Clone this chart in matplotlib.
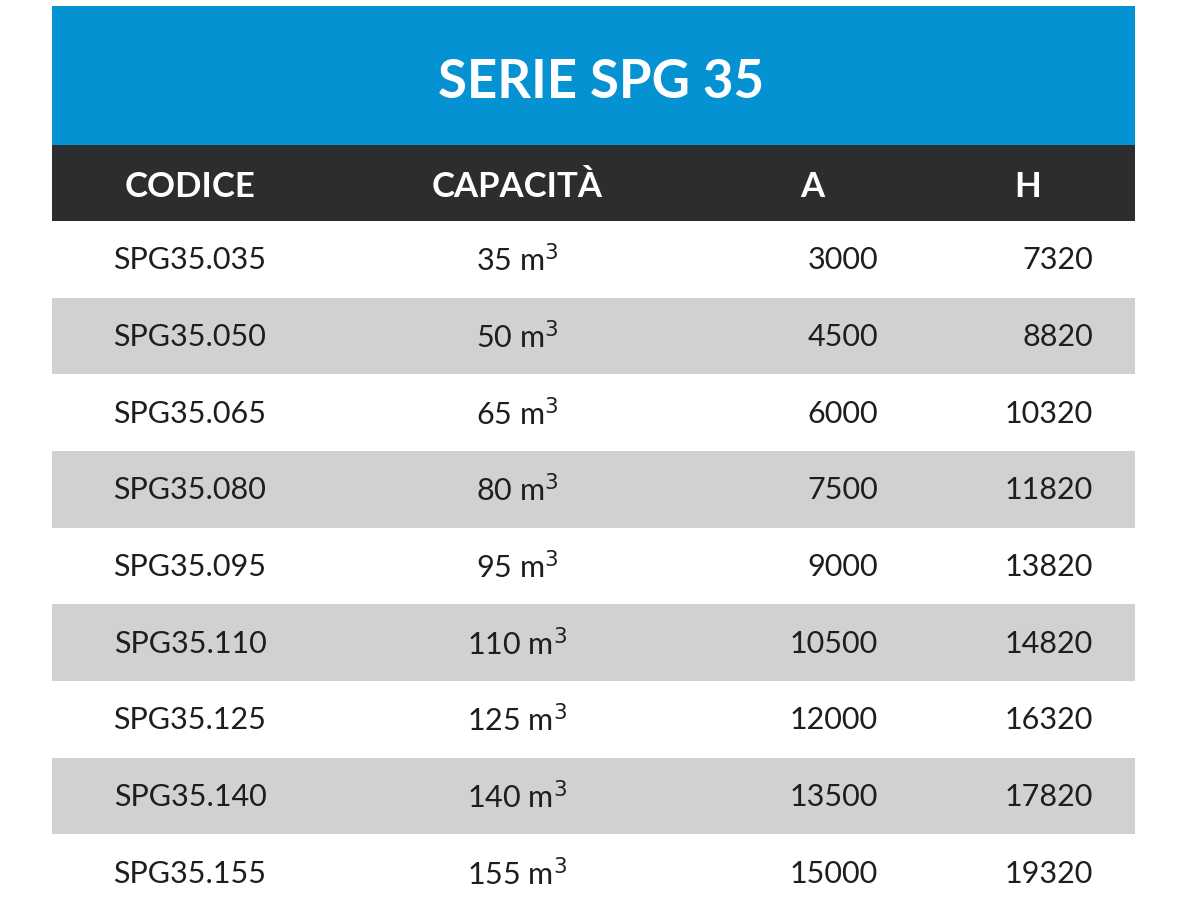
import matplotlib
matplotlib.use("Agg")
import matplotlib.pyplot as plt
from matplotlib.patches import Rectangle

title = "SERIE SPG 35"
headers = ["CODICE", "CAPACITÀ", "A", "H"]
codes = ["SPG35.035", "SPG35.050", "SPG35.065", "SPG35.080", "SPG35.095",
         "SPG35.110", "SPG35.125", "SPG35.140", "SPG35.155"]
capacity = [35, 50, 65, 80, 95, 110, 125, 140, 155]
a_vals = [3000, 4500, 6000, 7500, 9000, 10500, 12000, 13500, 15000]
h_vals = [7320, 8820, 10320, 11820, 13820, 14820, 16320, 17820, 19320]

W, H = 1187, 911
fig = plt.figure(figsize=(W / 100, H / 100), dpi=100)
ax = fig.add_axes([0, 0, 1, 1])
ax.set_xlim(0, W)
ax.set_ylim(H, 0)
ax.axis("off")

x0, x1 = 52, 1135
ax.add_patch(Rectangle((x0, 6), x1 - x0, 139, color="#0592D3", lw=0))
ax.add_patch(Rectangle((x0, 145), x1 - x0, 76, color="#2B2D2F", lw=0))
ax.text(601, 83, title, color="white", fontsize=38, fontweight="bold",
        family="Lato", ha="center", va="center")

hx = [190, 517, 812, 1028]
for x, t in zip(hx, headers):
    ax.text(x, 187, t, color="white", fontsize=25, fontweight="bold",
            family="Lato", ha="center", va="center")

rh = (H - 221) / 9
for i in range(len(codes)):
    y = 221 + i * rh
    if i % 2 == 1:
        ax.add_patch(Rectangle((x0, y), x1 - x0, rh, color="#D1D1D1", lw=0))
    yc = y + rh / 2 + 1
    kw = dict(color="#1E1E1E", fontsize=22, family="Lato", va="center")
    ax.text(190, yc, codes[i], ha="center", **kw)
    ax.text(517, yc, f"{capacity[i]} m$^3$", ha="center", **kw)
    ax.text(878, yc, str(a_vals[i]), ha="right", **kw)
    ax.text(1093, yc, str(h_vals[i]), ha="right", **kw)

fig.savefig("out.png", dpi=100, facecolor="white")
